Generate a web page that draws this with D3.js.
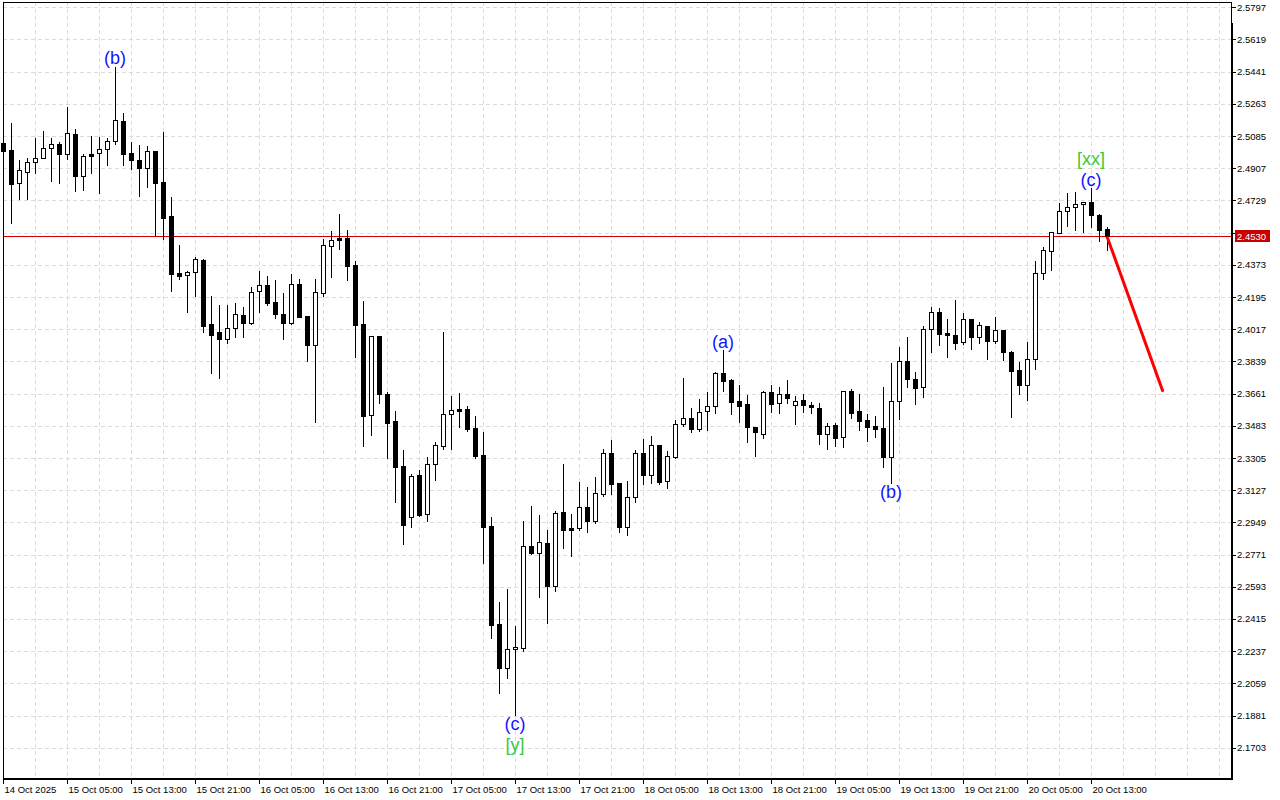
<!DOCTYPE html>
<html>
<head>
<meta charset="utf-8">
<script src="https://cdn.jsdelivr.net/npm/d3@7"></script>
<style>
body{margin:0;background:#fff;}
svg{display:block;}
text{font-family:"Liberation Sans",Arial,sans-serif;}
</style>
</head>
<body>
<div id="chart"></div>
<script>
// hourly bars, 14 Oct 21:00 -> 20 Oct 15:00
var timeLabels=["14 Oct 2025","15 Oct 05:00","15 Oct 13:00","15 Oct 21:00","16 Oct 05:00","16 Oct 13:00","16 Oct 21:00",
	"17 Oct 05:00","17 Oct 13:00","17 Oct 21:00","18 Oct 05:00","18 Oct 13:00","18 Oct 21:00","19 Oct 05:00",
	"19 Oct 13:00","19 Oct 21:00","20 Oct 05:00","20 Oct 13:00"];
var priceLabels=["2.5797","2.5619","2.5441","2.5263","2.5085","2.4907","2.4729","2.4551","2.4373","2.4195","2.4017","2.3839",
	"2.3661","2.3483","2.3305","2.3127","2.2949","2.2771","2.2593","2.2415","2.2237","2.2059","2.1881","2.1703"];

var opens=[2.5045,2.5008,2.4824,2.4885,2.4940,2.4962,2.5017,2.5039,2.4984,2.5096,
	2.4866,2.4986,2.4990,2.5012,2.5056,2.5168,2.4991,2.4953,2.4907,2.5002,
	2.4831,2.4641,2.4326,2.4315,2.4332,2.4400,2.4046,2.4001,2.3961,2.4022,
	2.4094,2.4050,2.4227,2.4260,2.4166,2.4099,2.4050,2.4265,2.4088,2.3931,
	2.4216,2.4475,2.4520,2.4521,2.4372,2.4046,2.3541,2.3979,2.3659,2.3508,
	2.3260,2.2980,2.3209,2.2993,2.3270,2.3373,2.3546,2.3576,2.3576,2.3471,
	2.3321,2.2929,2.2387,2.2142,2.2248,2.2256,2.2818,2.2781,2.2835,2.2599,
	2.3006,2.2918,2.2919,2.3034,2.2958,2.3107,2.3332,2.3166,2.2925,2.3087,
	2.3331,2.3212,2.3377,2.3176,2.3312,2.3494,2.3524,2.3465,2.3563,2.3591,
	2.3775,2.3736,2.3620,2.3603,2.3474,2.3439,2.3670,2.3607,2.3659,2.3596,
	2.3625,2.3596,2.3581,2.3439,2.3487,2.3419,2.3677,2.3565,2.3515,2.3482,
	2.3471,2.3312,2.3622,2.3841,2.3742,2.3699,2.4016,2.4110,2.3998,2.3985,
	2.3945,2.4072,2.3972,2.4035,2.3953,2.4013,2.3893,2.3791,2.3708,2.3852,
	2.4329,2.4451,2.4551,2.4669,2.4691,2.4708,2.4719,2.4648,2.4569];
var highs=[2.5058,2.5157,2.4953,2.4964,2.5074,2.5113,2.5074,2.5052,2.5247,2.5124,
	2.4987,2.5085,2.5081,2.5074,2.5467,2.5213,2.5052,2.5036,2.5028,2.5002,
	2.5107,2.4748,2.4481,2.4339,2.4415,2.4404,2.4199,2.4151,2.4151,2.4160,
	2.4138,2.4249,2.4339,2.4311,2.4289,2.4217,2.4322,2.4293,2.4090,2.4295,
	2.4516,2.4560,2.4654,2.4566,2.4394,2.4173,2.3979,2.3979,2.3668,2.3565,
	2.3349,2.3216,2.3238,2.3309,2.3392,2.4003,2.3649,2.3664,2.3594,2.3537,
	2.3450,2.2980,2.2510,2.2580,2.2376,2.2956,2.3039,2.2989,2.2907,2.3012,
	2.3270,2.2997,2.3172,2.3144,2.3200,2.3354,2.3404,2.3166,2.3178,2.3349,
	2.3410,2.3426,2.3377,2.3345,2.3515,2.3745,2.3581,2.3629,2.3671,2.3780,
	2.3902,2.3742,2.3708,2.3653,2.3474,2.3677,2.3708,2.3699,2.3736,2.3648,
	2.3657,2.3616,2.3609,2.3500,2.3497,2.3677,2.3686,2.3659,2.3548,2.3537,
	2.3699,2.3828,2.3917,2.3972,2.3779,2.4035,2.4138,2.4133,2.4073,2.4178,
	2.4108,2.4073,2.4058,2.4035,2.4083,2.4013,2.3896,2.3837,2.3946,2.4394,
	2.4470,2.4554,2.4713,2.4769,2.4776,2.4722,2.4796,2.4654,2.4584];
var lows=[2.4975,2.4604,2.4737,2.4737,2.4882,2.4962,2.4838,2.4827,2.4958,2.4783,
	2.4787,2.4882,2.4772,2.4927,2.5039,2.4927,2.4903,2.4755,2.4805,2.4538,
	2.4517,2.4230,2.4296,2.4114,2.4201,2.4003,2.3776,2.3745,2.3942,2.3972,
	2.3975,2.4046,2.4114,2.4152,2.4077,2.3961,2.4046,2.4086,2.3843,2.3504,
	2.4202,2.4307,2.4462,2.4289,2.3865,2.3371,2.3432,2.3610,2.3306,2.3063,
	2.2829,2.2925,2.2986,2.2958,2.3183,2.3354,2.3354,2.3478,2.3456,2.3303,
	2.2726,2.2311,2.2007,2.2086,2.1883,2.2239,2.2774,2.2538,2.2394,2.2571,
	2.2809,2.2764,2.2908,2.2897,2.2947,2.3096,2.3107,2.2897,2.2881,2.3063,
	2.3159,2.3165,2.3161,2.3140,2.3306,2.3482,2.3450,2.3456,2.3460,2.3552,
	2.3677,2.3546,2.3505,2.3392,2.3317,2.3414,2.3561,2.3552,2.3610,2.3493,
	2.3561,2.3555,2.3384,2.3353,2.3373,2.3364,2.3528,2.3461,2.3399,2.3422,
	2.3257,2.3165,2.3522,2.3699,2.3603,2.3640,2.3893,2.3930,2.3865,2.3907,
	2.3935,2.3907,2.3942,2.3852,2.3942,2.3847,2.3533,2.3659,2.3625,2.3797,
	2.4296,2.4344,2.4547,2.4588,2.4564,2.4553,2.4584,2.4506,2.4455];
var closes=[2.5004,2.4818,2.4896,2.4940,2.4962,2.5017,2.5039,2.4987,2.5100,2.4866,
	2.4973,2.4976,2.5012,2.5056,2.5172,2.4987,2.4954,2.4910,2.5001,2.4827,
	2.4634,2.4324,2.4313,2.4332,2.4404,2.4036,2.3987,2.3961,2.4022,2.4099,
	2.4053,2.4221,2.4260,2.4164,2.4099,2.4050,2.4265,2.4086,2.3931,2.4221,
	2.4481,2.4509,2.4512,2.4368,2.4042,2.3539,2.3978,2.3660,2.3500,2.3257,
	2.2936,2.3204,2.2989,2.3270,2.3377,2.3546,2.3568,2.3566,2.3465,2.3317,
	2.2925,2.2381,2.2145,2.2248,2.2260,2.2818,2.2781,2.2839,2.2599,2.3001,
	2.2908,2.2908,2.3034,2.2958,2.3110,2.3332,2.3163,2.2925,2.3089,2.3331,
	2.3212,2.3375,2.3170,2.3316,2.3491,2.3524,2.3465,2.3557,2.3591,2.3775,
	2.3732,2.3613,2.3594,2.3474,2.3447,2.3670,2.3605,2.3657,2.3635,2.3622,
	2.3599,2.3585,2.3439,2.3480,2.3417,2.3674,2.3555,2.3511,2.3478,2.3467,
	2.3312,2.3620,2.3841,2.3740,2.3693,2.4016,2.4110,2.3992,2.3983,2.3942,
	2.4072,2.3972,2.4038,2.3953,2.4011,2.3893,2.3787,2.3708,2.3851,2.4326,
	2.4455,2.4554,2.4671,2.4693,2.4708,2.4719,2.4650,2.4566,2.4530];

var lastPrice=2.4530;

// wave marks: text, bar index, price, degree
var waveText=["(b)","(c)","[y]","(a)","(b)","(c)","[xx]"];
var waveBar=[14,64,64,90,111,136,136];
var wavePrice=[2.5517,2.1834,2.1718,2.3946,2.3117,2.4842,2.4958];
var waveDegree=["minor","minor","major","minor","minor","minor","major"];

// forecast arrow
var forecastBar=[138,145];
var forecastPrice=[2.4530,2.3671];

var width=1280,height=800;
var plot={left:3,top:2,right:1231,bottom:779};

var svg=d3.select("#chart").append("svg")
	.attr("width",width)
	.attr("height",height);
svg.append("rect").attr("width",width).attr("height",height).attr("fill","#fff");

var xScale=d3.scaleLinear().domain([0,153.5]).range([plot.left,plot.right]);
var yScale=d3.scaleLinear().domain([2.1530,2.5826]).range([plot.bottom,plot.top]);

function px(i){return Math.round(xScale(i));}
function py(v){return Math.round(yScale(v));}

var priceVals=priceLabels.map(Number);
var tickBars=timeLabels.map(function(d,k){return k*8;});
var gridBars=d3.range(4,154,4);

//grid
var grid=svg.append("g").attr("stroke","#dcdcdc").attr("stroke-dasharray","4,3").attr("shape-rendering","crispEdges");
grid.selectAll(".hg").data(priceVals).enter().append("line")
	.attr("x1",plot.left).attr("x2",plot.right)
	.attr("y1",function(d){return py(d)+0.5;})
	.attr("y2",function(d){return py(d)+0.5;});
grid.selectAll(".vg").data(gridBars).enter().append("line")
	.attr("y1",plot.top).attr("y2",plot.bottom)
	.attr("x1",function(d){return px(d)+0.5;})
	.attr("x2",function(d){return px(d)+0.5;});

//current price line
svg.append("line")
	.attr("x1",plot.left).attr("x2",plot.right)
	.attr("y1",py(lastPrice)+0.5).attr("y2",py(lastPrice)+0.5)
	.attr("stroke","#d00000").attr("stroke-width",1)
	.attr("shape-rendering","crispEdges");

//candles
var bars=d3.range(opens.length);
var cg=svg.append("g").attr("shape-rendering","crispEdges");
cg.selectAll(".wick").data(bars).enter().append("line")
	.attr("x1",function(i){return px(i)+0.5;})
	.attr("x2",function(i){return px(i)+0.5;})
	.attr("y1",function(i){return py(highs[i]);})
	.attr("y2",function(i){return py(lows[i])+1;})
	.attr("stroke","#000");
cg.selectAll(".body").data(bars).enter().append("rect")
	.attr("x",function(i){return px(i)-2+0.5;})
	.attr("y",function(i){return py(Math.max(opens[i],closes[i]))+0.5;})
	.attr("width",4)
	.attr("height",function(i){
		var h=py(Math.min(opens[i],closes[i]))-py(Math.max(opens[i],closes[i]));
		return Math.max(h,1);
	})
	.attr("fill",function(i){return closes[i]>=opens[i]?"#fff":"#000";})
	.attr("stroke","#000");

//forecast
var fline=d3.line()
	.x(function(d){return xScale(d[0]);})
	.y(function(d){return yScale(d[1]);});
svg.append("path")
	.datum(d3.zip(forecastBar,forecastPrice))
	.attr("d",fline)
	.attr("fill","none")
	.attr("stroke","#ff0000")
	.attr("stroke-width",3);

//wave labels
var degreeColor={minor:"#1414ff",major:"#3cc83c"};
svg.selectAll(".wave").data(waveText).enter().append("text")
	.attr("x",function(d,k){return xScale(waveBar[k]);})
	.attr("y",function(d,k){return yScale(wavePrice[k]);})
	.attr("text-anchor","middle")
	.attr("dominant-baseline","central")
	.style("font-size","18px")
	.attr("fill",function(d,k){return degreeColor[waveDegree[k]];})
	.text(function(d){return d;});

//axes
var yAxis=d3.axisRight(yScale).tickValues(priceVals).tickFormat(d3.format(".4f")).tickSize(4).tickPadding(1);
var ya=svg.append("g").attr("transform","translate("+(plot.right+1)+",0)").call(yAxis);
ya.select(".domain").remove();
ya.selectAll("text").style("font-size","9.5px").attr("fill","#000").style("font-family","'Liberation Sans',Arial,sans-serif");
ya.selectAll("line").attr("shape-rendering","crispEdges");

var xAxis=d3.axisBottom(xScale).tickValues(tickBars).tickFormat(function(d,k){return timeLabels[k];}).tickSize(4).tickPadding(2);
var xa=svg.append("g").attr("transform","translate(0,"+(plot.bottom+1)+")").call(xAxis);
xa.select(".domain").remove();
xa.selectAll("text").attr("text-anchor","start").attr("dx","1").style("font-size","9.5px").attr("fill","#000")
	.style("font-family","'Liberation Sans',Arial,sans-serif");
xa.selectAll("line").attr("shape-rendering","crispEdges");

//current price tag
var ly=py(lastPrice);
svg.append("rect").attr("x",plot.right+4).attr("y",ly-6).attr("width",35).attr("height",12).attr("fill","#c80000");
svg.append("text").attr("x",plot.right+6).attr("y",ly+0.5)
	.attr("dominant-baseline","central")
	.style("font-size","9.5px").attr("fill","#fff")
	.text(d3.format(".4f")(lastPrice));

//frame
var fr=svg.append("g").attr("shape-rendering","crispEdges").attr("fill","#000");
fr.append("rect").attr("x",plot.left).attr("y",plot.top).attr("width",1).attr("height",plot.bottom-plot.top);
fr.append("rect").attr("x",plot.left).attr("y",plot.top).attr("width",plot.right-plot.left).attr("height",1);
fr.append("rect").attr("x",plot.left).attr("y",plot.bottom-1).attr("width",plot.right-plot.left+2).attr("height",2);
fr.append("rect").attr("x",plot.right).attr("y",plot.top).attr("width",1).attr("height",22);
fr.append("rect").attr("x",plot.right).attr("y",plot.top+21).attr("width",2).attr("height",plot.bottom-plot.top-20);
</script>
</body>
</html>
